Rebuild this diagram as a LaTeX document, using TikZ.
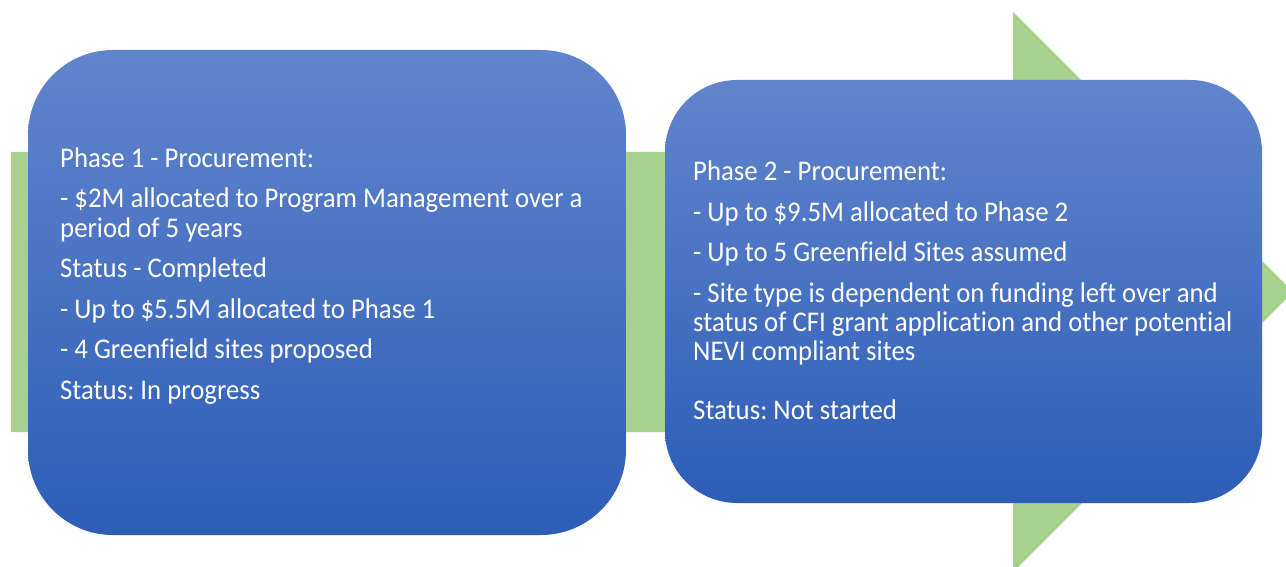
\documentclass[tikz,border=0pt]{standalone}
\usepackage{fontspec}
\setmainfont{Carlito}[FakeStretch=0.94,Ligatures=CommonOff]
\frenchspacing
\definecolor{arrowgreen}{HTML}{A9D18E}
\definecolor{boxtop}{HTML}{6185CC}
\definecolor{boxbottom}{HTML}{2D5DB7}
\begin{document}
\begin{tikzpicture}[x=1pt,y=-1pt,
  phasebox/.style={top color=boxtop,bottom color=boxbottom},
  line/.style={anchor=base west,inner sep=0pt,text=white,font=\fontsize{28.5}{30}\selectfont}]
\useasboundingbox (0,0) rectangle (1286,567);
% wide green arrow behind the phases
\begin{scope}
\clip (0,0) rectangle (1286,567);
\fill[arrowgreen] (11,152) -- (1013,152) -- (1013,12) -- (1293,292)
  -- (1013,572) -- (1013,432) -- (11,432) -- cycle;
\end{scope}
% phase boxes
\shade[phasebox,rounded corners=85pt] (28,50) rectangle (626,535);
\shade[phasebox,rounded corners=72pt] (665,80) rectangle (1262,503);
% phase 1 text
\node[line] (a1) at (60,167.5) {Phase 1 - Procurement:};
\node[line] (a2) at (60,207.5) {- \$2M allocated to Program Management over a};
\node[line] (a3) at (60,237.5) {period of 5 years};
\node[line] (a4) at (60,277.5) {Status - Completed};
\node[line] (a5) at (60,318.5) {- Up to \$5.5M allocated to Phase 1};
\node[line] (a6) at (60,358.5) {- 4 Greenfield sites proposed};
\node[line] (a7) at (60,399.5) {Status: In progress};
% phase 2 text
\node[line] (b1) at (693,180.5) {Phase 2 - Procurement:};
\node[line] (b2) at (693,221.5) {- Up to \$9.5M allocated to Phase 2};
\node[line] (b3) at (693,261.5) {- Up to 5 Greenfield Sites assumed};
\node[line] (b4) at (693,302.5) {- Site type is dependent on funding left over and};
\node[line] (b5) at (693,331.5) {status of CFI grant application and other potential};
\node[line] (b6) at (693,360.5) {NEVI compliant sites};
\node[line] (b7) at (693,419.5) {Status: Not started};
\end{tikzpicture}
\end{document}
